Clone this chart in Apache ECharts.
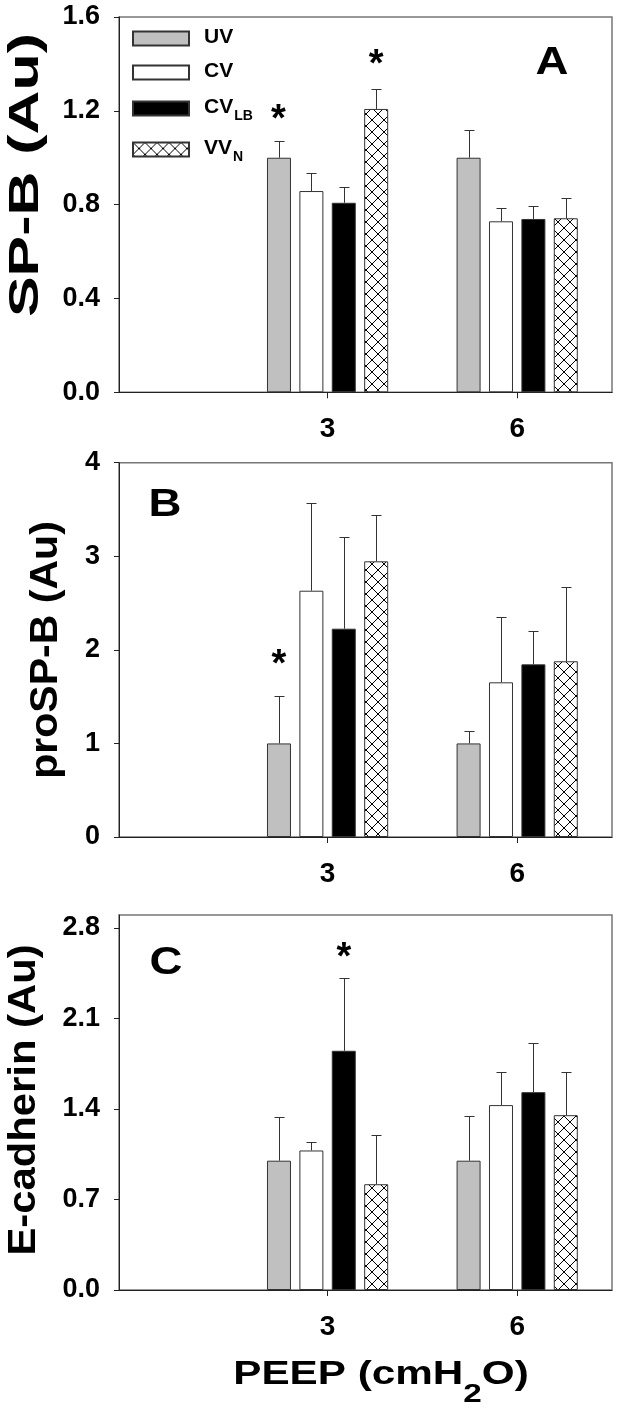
<!DOCTYPE html>
<html><head><meta charset="utf-8">
<script src="https://cdn.jsdelivr.net/npm/echarts@6/dist/echarts.min.js"></script>
<style>html,body{margin:0;padding:0;background:#fff}#c{width:622px;height:1414px}</style>
</head><body><div id="c"></div><script>
// ---------- data ----------
const categories = [3, 6];              // PEEP (cmH2O)
const xTickLabels = ['3', '6'];
const seriesNames = ['UV', 'CV', 'CV_LB', 'VV_N'];

// Panel A: SP-B (Au)
const spbUV   = [1.00, 1.00];
const spbCV   = [0.858, 0.729];
const spbCVLB = [0.808, 0.739];
const spbVVN  = [1.208, 0.742];
const spbUVSem   = [0.071, 0.118];
const spbCVSem   = [0.076, 0.055];
const spbCVLBSem = [0.069, 0.057];
const spbVVNSem  = [0.085, 0.088];
const spbTicks = [0, 0.4, 0.8, 1.2, 1.6];
const spbStars = [[3, 1.44, 3]];        // [PEEP, y, group]

// Panel B: proSP-B (Au)
const proUV   = [1.00, 1.00];
const proCV   = [2.632, 1.653];
const proCVLB = [2.226, 1.845];
const proVVN  = [2.946, 1.878];
const proUVSem   = [0.51, 0.136];
const proCVSem   = [0.937, 0.698];
const proCVLBSem = [0.977, 0.36];
const proVVNSem  = [0.492, 0.797];
const proTicks = [0, 1, 2, 3, 4];
const proStars = [[3, 1.95, 0]];

// Panel C: E-cadherin (Au)
const ecaUV   = [1.00, 1.00];
const ecaCV   = [1.079, 1.430];
const ecaCVLB = [1.850, 1.530];
const ecaVVN  = [0.818, 1.352];
const ecaUVSem   = [0.335, 0.343];
const ecaCVSem   = [0.067, 0.255];
const ecaCVLBSem = [0.56, 0.382];
const ecaVVNSem  = [0.384, 0.333];
const ecaTicks = [0, 0.7, 1.4, 2.1, 2.8];
const ecaStars = [[3, 2.65, 2]];

// ---------- styling ----------
const FF = 'Liberation Sans, Arial, Helvetica, sans-serif';
const BAR_W = 24, BAR_GAP = 0.35;
const pitch = BAR_W * (1 + BAR_GAP);
const barOffsets = [-1.5, -0.5, 0.5, 1.5].map(k => k * pitch);
const STAR_FS = 38;

function hatch() {
  const c = document.createElement('canvas'); c.width = 12; c.height = 12;
  const g = c.getContext('2d');
  g.fillStyle = '#fff'; g.fillRect(0, 0, 12, 12);
  g.strokeStyle = '#000'; g.lineWidth = 1;
  g.beginPath(); g.moveTo(-1, -1); g.lineTo(13, 13); g.moveTo(-1, 13); g.lineTo(13, -1); g.stroke();
  return c;
}
const barColors = ['#c0c0c0', '#ffffff', '#000000', { image: hatch(), repeat: 'repeat' }];

const panels = [
  { vals: [spbUV, spbCV, spbCVLB, spbVVN], sems: [spbUVSem, spbCVSem, spbCVLBSem, spbVVNSem],
    ticks: spbTicks, max: 1.6, dec: 1, stars: spbStars, top: 17, height: 375.3 },
  { vals: [proUV, proCV, proCVLB, proVVN], sems: [proUVSem, proCVSem, proCVLBSem, proVVNSem],
    ticks: proTicks, max: 4, dec: 0, stars: proStars, top: 462.7, height: 374.3 },
  { vals: [ecaUV, ecaCV, ecaCVLB, ecaVVN], sems: [ecaUVSem, ecaCVSem, ecaCVLBSem, ecaVVNSem],
    ticks: ecaTicks, max: 2.9, dec: 1, stars: ecaStars, top: 915, height: 375 }
];

const grid = [], xAxis = [], yAxis = [], series = [];
panels.forEach((p, pi) => {
  grid.push({ left: 119, width: 493, top: p.top, height: p.height, show: true,
              borderColor: '#777', borderWidth: 1.5, backgroundColor: 'transparent' });
  xAxis.push({
    type: 'value', gridIndex: pi, min: -0.3, max: 7.5,
    splitLine: { show: false },
    axisLine: { show: true, onZero: false, lineStyle: { color: '#222', width: 1 } },
    axisTick: { show: true, customValues: categories, length: 6, lineStyle: { color: '#222' } },
    axisLabel: { customValues: categories, formatter: v => xTickLabels[categories.indexOf(v)],
                 fontSize: 28, fontWeight: 'bold', fontFamily: FF, color: '#000', margin: 23 }
  });
  yAxis.push({
    type: 'value', gridIndex: pi, min: 0, max: p.max,
    splitLine: { show: false },
    axisLine: { show: true, onZero: false, lineStyle: { color: '#222', width: 1 } },
    axisTick: { show: true, customValues: p.ticks, length: 5, lineStyle: { color: '#222' } },
    axisLabel: { customValues: p.ticks, formatter: v => v.toFixed(p.dec),
                 fontSize: 27, fontWeight: 'bold', fontFamily: FF, color: '#000', margin: 19 }
  });
  seriesNames.forEach((n, si) => {
    series.push({
      type: 'bar', name: n, xAxisIndex: pi, yAxisIndex: pi,
      data: categories.map((c, j) => [c, p.vals[si][j]]),
      barWidth: BAR_W, barGap: (BAR_GAP * 100) + '%',
      itemStyle: { color: barColors[si], borderColor: '#333', borderWidth: 1 },
      silent: true, animation: false
    });
  });
  const errData = [];
  seriesNames.forEach((n, si) => categories.forEach((c, j) => errData.push([c, p.vals[si][j], p.sems[si][j], si])));
  series.push({
    type: 'custom', xAxisIndex: pi, yAxisIndex: pi, data: errData, silent: true, animation: false, z: 5,
    encode: { x: 0, y: 1 },
    renderItem: (params, api) => {
      const x = api.value(0), m = api.value(1), s = api.value(2), k = api.value(3);
      const p0 = api.coord([x, m]), p1 = api.coord([x, m + s]);
      const cx = Math.round(p0[0] + barOffsets[k]) + 0.5;
      const ty = Math.round(p1[1]) + 0.5;
      const st = { stroke: '#333', lineWidth: 1 };
      return { type: 'group', children: [
        { type: 'line', shape: { x1: cx, y1: p0[1], x2: cx, y2: ty }, style: st },
        { type: 'line', shape: { x1: cx - 5, y1: ty, x2: cx + 5, y2: ty }, style: st }
      ]};
    }
  });
  series.push({
    type: 'custom', xAxisIndex: pi, yAxisIndex: pi, data: p.stars, silent: true, animation: false, z: 6,
    encode: { x: 0, y: 1 },
    renderItem: (params, api) => {
      const pt = api.coord([api.value(0), api.value(1)]);
      return { type: 'text', x: pt[0] + barOffsets[api.value(2)], y: pt[1] + 0.29 * STAR_FS,
               style: { text: '*', fontSize: STAR_FS, fontWeight: 'bold', fontFamily: FF, fill: '#000',
                        align: 'center', verticalAlign: 'middle' } };
    }
  });
});

const legendLabels = {
  'UV': '{b|UV}', 'CV': '{b|CV}', 'CV_LB': '{b|CV}{s|LB}', 'VV_N': '{b|VV}{s|N}'
};
const legendRich = {
  b: { fontSize: 21, fontWeight: 'bold', fontFamily: FF, color: '#000', lineHeight: 20, padding: [4, 0, 6, 10] },
  s: { fontSize: 14, fontWeight: 'bold', fontFamily: FF, color: '#000', lineHeight: 14, padding: [16, 0, 0, 1] }
};
const legendTops = [23, 57, 93, 134];
const legend = seriesNames.map((n, i) => ({
  data: [n], left: 132, top: legendTops[i], padding: 0, orient: 'vertical', icon: 'rect',
  itemWidth: 56, itemHeight: 14, selectedMode: false,
  formatter: name => legendLabels[name], textStyle: { rich: legendRich }
}));

function title(text, x, y, fs, sx) {
  return { type: 'text', x: x, y: y, rotation: Math.PI / 2, scaleX: sx, silent: true,
           style: { text: text, fontSize: fs, fontWeight: 'bold', fontFamily: FF, fill: '#000',
                    align: 'center', verticalAlign: 'middle' } };
}
function letter(text, x, y) {
  return { type: 'text', x: x, y: y, scaleX: 1.2, silent: true,
           style: { text: text, fontSize: 38, fontWeight: 'bold', fontFamily: FF, fill: '#000',
                    align: 'center', verticalAlign: 'middle' } };
}
const graphic = [
  title('SP-B (Au)', 26, 175, 42, 1.45),
  title('proSP-B (Au)', 47, 650, 38, 1.08),
  title('E-cadherin (Au)', 25, 1100, 38, 1.1),
  letter('A', 552, 64), letter('B', 165, 506), letter('C', 166, 964),
  // significance mark next to the CV_LB legend entry
  { type: 'text', x: 278.5, y: 109.5 + 0.29 * STAR_FS, silent: true,
    style: { text: '*', fontSize: STAR_FS, fontWeight: 'bold', fontFamily: FF, fill: '#000',
             align: 'center', verticalAlign: 'middle' } },
  { type: 'text', x: 381, y: 1383, scaleX: 1.28, silent: true,
    style: { text: '{b|PEEP (cmH}{s|2}{b|O)}', align: 'center', verticalAlign: 'middle',
             rich: { b: { fontSize: 33, fontWeight: 'bold', fontFamily: FF, fill: '#000', lineHeight: 33, padding: [0, 0, 16, 0] },
                     s: { fontSize: 26, fontWeight: 'bold', fontFamily: FF, fill: '#000', lineHeight: 26, padding: [23, 0, 0, 0] } } } }
];

const chart = echarts.init(document.getElementById('c'), null, { renderer: 'canvas' });
chart.setOption({ animation: false, backgroundColor: '#fff', grid, xAxis, yAxis, series, legend, graphic });
</script></body></html>
